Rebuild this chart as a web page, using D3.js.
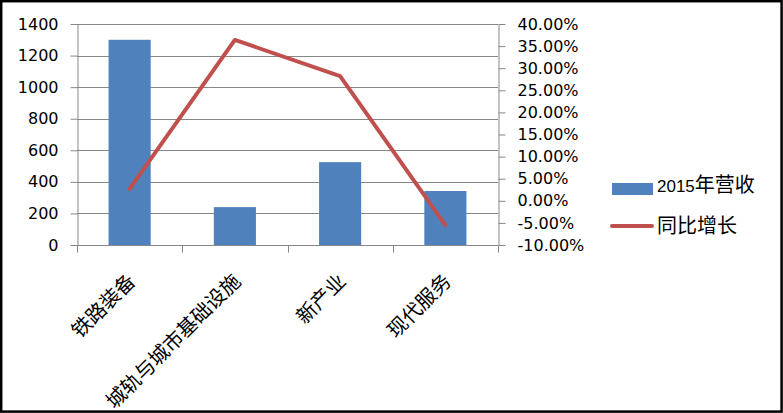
<!DOCTYPE html>
<html>
<head>
<meta charset="utf-8">
<script src="https://cdn.jsdelivr.net/npm/d3@7"></script>
<style>
  body { margin: 0; background: #fff; }
  svg { display: block; }
</style>
</head>
<body>
<svg id="chart" width="783" height="413"></svg>
<script>
// data
const categories = ["铁路装备", "城轨与城市基础设施", "新产业", "现代服务"];
const revenue2015 = [1300, 240, 525, 342];
const yoyGrowth = [0.027, 0.364, 0.282, -0.055];

const leftTicks = [0, 200, 400, 600, 800, 1000, 1200, 1400];
const rightTicks = [-0.10, -0.05, 0, 0.05, 0.10, 0.15, 0.20, 0.25, 0.30, 0.35, 0.40];
const seriesNames = ["2015年营收", "同比增长"];

const barColor = "#4F81BD";
const lineColor = "#C0504D";
const gridColor = "#878787";
const numFont = "DejaVu Sans, sans-serif";
const cjkFont = "'Noto Sans CJK SC', sans-serif";

var svg = d3.select("#chart");
var W = +svg.attr("width"), H = +svg.attr("height");

svg.append("rect")
    .attr("x", 1.2).attr("y", 1.2)
    .attr("width", W - 2.6).attr("height", H - 2.6)
    .attr("fill", "#fff")
    .attr("stroke", "#000")
    .attr("stroke-width", 2.5);

var plot = {left: 77, right: 498, top: 24, bottom: 245};

var x = d3.scaleBand()
    .domain(categories)
    .range([plot.left, plot.right])
    .padding(0);

var yL = d3.scaleLinear().domain([0, 1400]).range([plot.bottom, plot.top]);
var yR = d3.scaleLinear().domain([-0.10, 0.40]).range([plot.bottom, plot.top]);

// gridlines (from left axis)
svg.append("g")
    .selectAll("line")
    .data(leftTicks.filter(d => d > 0))
    .enter().append("line")
    .attr("x1", plot.left).attr("x2", plot.right)
    .attr("y1", d => Math.round(yL(d)) + 0.5)
    .attr("y2", d => Math.round(yL(d)) + 0.5)
    .attr("stroke", gridColor)
    .attr("stroke-width", 1);

// bars
var barW = x.bandwidth() / 2.5;
svg.append("g")
    .selectAll("rect")
    .data(revenue2015)
    .enter().append("rect")
    .attr("x", (d, i) => x(categories[i]) + (x.bandwidth() - barW) / 2)
    .attr("y", d => yL(d))
    .attr("width", barW)
    .attr("height", d => yL(0) - yL(d))
    .attr("fill", barColor);

// left axis
var gLeft = svg.append("g")
    .attr("transform", "translate(" + (plot.left + 0.5) + ",0)")
    .call(d3.axisLeft(yL).tickValues(leftTicks).tickSize(7).tickSizeOuter(0).tickPadding(12)
        .tickFormat(d => String(d)));

// right axis
var gRight = svg.append("g")
    .attr("transform", "translate(" + (plot.right + 0.5) + ",0)")
    .call(d3.axisRight(yR).tickValues(rightTicks).tickSize(7).tickSizeOuter(0).tickPadding(12)
        .tickFormat(d => (Math.abs(d) < 1e-9 ? 0 : d * 100).toFixed(2) + "%"));

[gLeft, gRight].forEach(g => {
    g.select(".domain").attr("stroke", gridColor);
    g.selectAll(".tick line").attr("stroke", gridColor);
    g.selectAll(".tick text")
        .attr("fill", "#000")
        .style("font-family", numFont)
        .style("font-size", "16px");
});

// bottom axis
var gBottom = svg.append("g")
    .attr("transform", "translate(0," + (plot.bottom + 0.5) + ")");
gBottom.append("line")
    .attr("x1", plot.left).attr("x2", plot.right)
    .attr("stroke", gridColor);
var bounds = categories.map(c => x(c)).concat([plot.right]);
gBottom.selectAll("line.tk")
    .data(bounds)
    .enter().append("line")
    .attr("class", "tk")
    .attr("x1", d => Math.round(d) + 0.5).attr("x2", d => Math.round(d) + 0.5)
    .attr("y1", 0).attr("y2", 7)
    .attr("stroke", gridColor);

gBottom.selectAll("text")
    .data(categories)
    .enter().append("text")
    .attr("transform", d => "translate(" + (x(d) + x.bandwidth() / 2 + 7) + ",37) rotate(-45)")
    .attr("text-anchor", "end")
    .style("font-family", cjkFont)
    .style("font-size", "20px")
    .attr("fill", "#000")
    .text(d => d);

// growth line
var line = d3.line()
    .x((d, i) => x(categories[i]) + x.bandwidth() / 2)
    .y(d => yR(d));

svg.append("path")
    .datum(yoyGrowth)
    .attr("d", line)
    .attr("fill", "none")
    .attr("stroke", lineColor)
    .attr("stroke-width", 4)
    .attr("stroke-linejoin", "round")
    .attr("stroke-linecap", "round");

// legend
var legend = svg.append("g");
legend.append("rect")
    .attr("x", 612).attr("y", 183)
    .attr("width", 41).attr("height", 12)
    .attr("fill", barColor);
var t1 = legend.append("text")
    .attr("x", 657).attr("y", 192)
    .attr("fill", "#000");
t1.append("tspan").style("font-family", "Liberation Sans, sans-serif").style("font-size", "17px")
    .text(seriesNames[0].slice(0, 4));
t1.append("tspan").style("font-family", cjkFont).style("font-size", "20px")
    .text(seriesNames[0].slice(4));

legend.append("line")
    .attr("x1", 612).attr("x2", 652)
    .attr("y1", 226).attr("y2", 226)
    .attr("stroke", lineColor)
    .attr("stroke-width", 4)
    .attr("stroke-linecap", "round");
legend.append("text")
    .attr("x", 657).attr("y", 233)
    .style("font-family", cjkFont)
    .style("font-size", "20px")
    .attr("fill", "#000")
    .text(seriesNames[1]);
</script>
</body>
</html>
